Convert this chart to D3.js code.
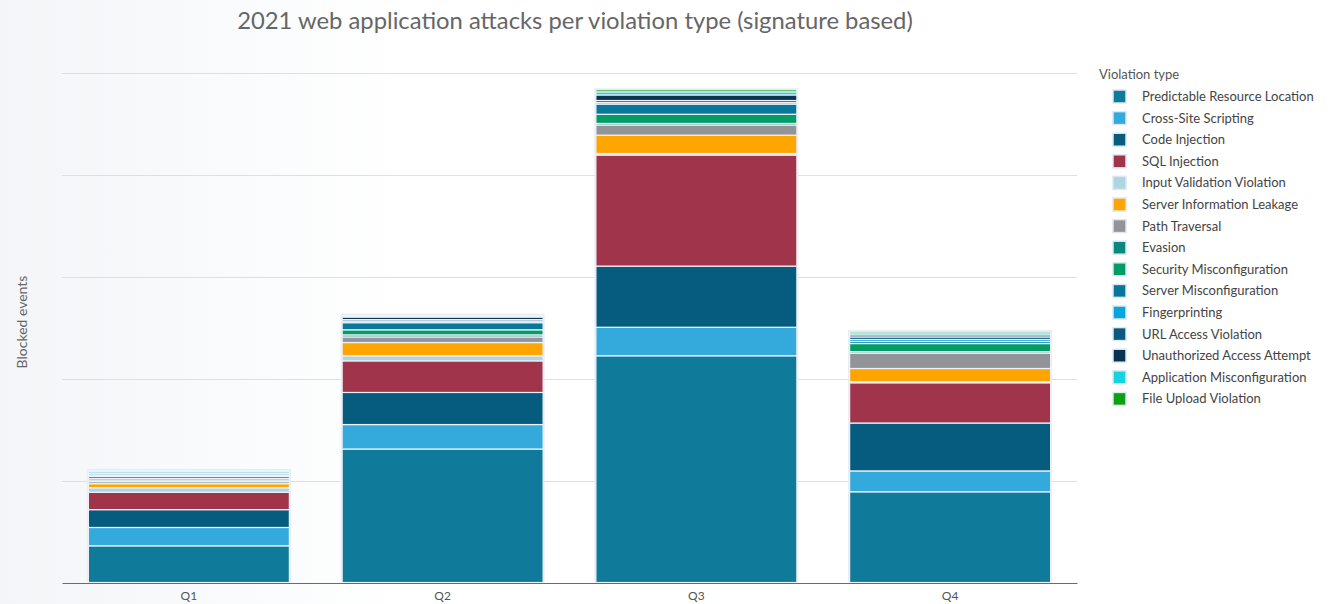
<!DOCTYPE html>
<html>
<head>
<meta charset="utf-8">
<script src="https://cdn.jsdelivr.net/npm/d3@7"></script>
<style>
  html, body { margin: 0; padding: 0; background: #fff; }
  svg { display: block; font-family: "Lato", "Open Sans", sans-serif; }
</style>
</head>
<body>
<svg id="chart" width="1338" height="604"></svg>
<script>
// Quarters on the x axis
const quarters = ["Q1", "Q2", "Q3", "Q4"];

// Violation types, stacked bottom to top
const violationTypes = [
  "Predictable Resource Location",
  "Cross-Site Scripting",
  "Code Injection",
  "SQL Injection",
  "Input Validation Violation",
  "Server Information Leakage",
  "Path Traversal",
  "Evasion",
  "Security Misconfiguration",
  "Server Misconfiguration",
  "Fingerprinting",
  "URL Access Violation",
  "Unauthorized Access Attempt",
  "Application Misconfiguration",
  "File Upload Violation"
];

const typeColors = [
  "#0f7a99", "#34aadc", "#065c7e", "#a0344a", "#add5e2",
  "#ffa500", "#929497", "#0a8a7e", "#039c66", "#08789a",
  "#08a6df", "#0b5880", "#0a3350", "#14d4e0", "#0da012"
];

// Blocked events per quarter (one array per violation type, Q1..Q4)
const predictableResourceLocation = [36, 131, 222.5, 89];
const crossSiteScripting          = [18, 24, 28, 20.5];
const codeInjection               = [17.5, 31.5, 60, 47];
const sqlInjection                = [17, 31, 109, 39.5];
const inputValidationViolation    = [4.5, 5, 1.5, 1];
const serverInformationLeakage    = [4, 13, 18, 13];
const pathTraversal               = [2, 5.5, 10, 15];
const evasion                     = [1.5, 2, 1.5, 1.5];
const securityMisconfiguration    = [1.5, 5, 9, 8];
const serverMisconfiguration      = [2, 7, 10, 2];
const fingerprinting              = [1, 1.5, 1.5, 2];
const urlAccessViolation          = [1.5, 1.5, 2, 2.5];
const unauthorizedAccessAttempt   = [1, 2.5, 5.5, 2];
const applicationMisconfiguration = [1.5, 1, 3, 2];
const fileUploadViolation         = [1, 1, 2, 1.5];

const seriesValues = [
  predictableResourceLocation, crossSiteScripting, codeInjection, sqlInjection,
  inputValidationViolation, serverInformationLeakage, pathTraversal, evasion,
  securityMisconfiguration, serverMisconfiguration, fingerprinting,
  urlAccessViolation, unauthorizedAccessAttempt, applicationMisconfiguration,
  fileUploadViolation
];

// Gridline positions on the value axis
const gridValues = [0, 100, 200, 300, 400, 500];

const rows = quarters.map((q, i) => {
  const row = { quarter: q };
  violationTypes.forEach((t, k) => { row[t] = seriesValues[k][i]; });
  return row;
});

const svg = d3.select("#chart");
const W = 1338, H = 604;
const margin = { left: 62, right: 261, top: 73, bottom: 21 };

// soft grey wash on the left side of the canvas
const defs = svg.append("defs");
const grad = defs.append("linearGradient").attr("id", "bgWash")
  .attr("x1", "0").attr("x2", "1").attr("y1", "0").attr("y2", "0");
grad.append("stop").attr("offset", "0").attr("stop-color", "#f3f5f8");
grad.append("stop").attr("offset", "0.12").attr("stop-color", "#f7f9fb");
grad.append("stop").attr("offset", "0.3").attr("stop-color", "#ffffff");
svg.append("rect").attr("width", W).attr("height", H).attr("fill", "url(#bgWash)");

const x = d3.scaleBand()
  .domain(quarters)
  .range([margin.left, W - margin.right])
  .paddingInner(0.208)
  .paddingOuter(0.104);

const y = d3.scaleLinear()
  .domain([0, 500])
  .range([H - margin.bottom - 0.5, margin.top]);

// gridlines
svg.append("g")
  .selectAll("line")
  .data(gridValues.slice(1))
  .join("line")
  .attr("x1", margin.left).attr("x2", W - margin.right)
  .attr("y1", d => Math.round(y(d)) + 0.5).attr("y2", d => Math.round(y(d)) + 0.5)
  .attr("stroke", "#dedfe2").attr("stroke-width", 1);

// stacked bars
const stack = d3.stack().keys(violationTypes)(rows);
const colorOf = d3.scaleOrdinal().domain(violationTypes).range(typeColors);

// light frame behind each bar
svg.append("g")
  .selectAll("rect")
  .data(rows)
  .join("rect")
  .attr("x", d => x(d.quarter) - 1.5)
  .attr("width", x.bandwidth() + 3)
  .attr("y", d => y(d3.sum(violationTypes, t => d[t])) - 1.5)
  .attr("height", d => y(0) - y(d3.sum(violationTypes, t => d[t])) + 1.5)
  .attr("fill", "#e6ecf5");

svg.append("g")
  .selectAll("g")
  .data(stack)
  .join("g")
  .attr("fill", d => colorOf(d.key))
  .selectAll("rect")
  .data(d => d)
  .join("rect")
  .attr("x", d => x(d.data.quarter))
  .attr("width", x.bandwidth())
  .attr("y", d => y(d[1]))
  .attr("height", d => Math.max(0, y(d[0]) - y(d[1])))
  .attr("stroke", "#eef2f8")
  .attr("stroke-width", 1.2);

// x axis
const xAxis = svg.append("g")
  .attr("transform", `translate(0,${H - margin.bottom})`)
  .call(d3.axisBottom(x).tickSize(0).tickPadding(8));
xAxis.select(".domain").attr("stroke", "#6b6b6b").attr("stroke-width", 1.2);
xAxis.selectAll("text")
  .attr("fill", "#555").style("font-size", "12px")
  .style("font-family", "Lato, 'Open Sans', sans-serif");

// title
svg.append("text")
  .attr("x", 575).attr("y", 29)
  .attr("text-anchor", "middle")
  .attr("fill", "#666")
  .style("font-size", "23.8px")
  .text("2021 web application attacks per violation type (signature based)");

// y axis title
svg.append("text")
  .attr("transform", "translate(27,322) rotate(-90)")
  .attr("text-anchor", "middle")
  .attr("fill", "#666")
  .style("font-size", "14px")
  .text("Blocked events");

// legend
const legend = svg.append("g");
legend.append("text")
  .attr("x", 1099).attr("y", 79)
  .attr("fill", "#555")
  .style("font-size", "13px")
  .text("Violation type");

const item = legend.selectAll("g.item")
  .data(violationTypes)
  .join("g")
  .attr("class", "item")
  .attr("transform", (d, i) => `translate(1113,${96.5 + i * 21.6})`);
item.append("rect")
  .attr("x", 0).attr("y", -6.5)
  .attr("width", 13).attr("height", 13)
  .attr("fill", d => colorOf(d))
  .attr("stroke", "#dfe7f1").attr("stroke-width", 1.5);
item.append("text")
  .attr("x", 29).attr("y", 4.5)
  .attr("fill", "#444")
  .style("font-size", "13px")
  .text(d => d);
</script>
</body>
</html>
